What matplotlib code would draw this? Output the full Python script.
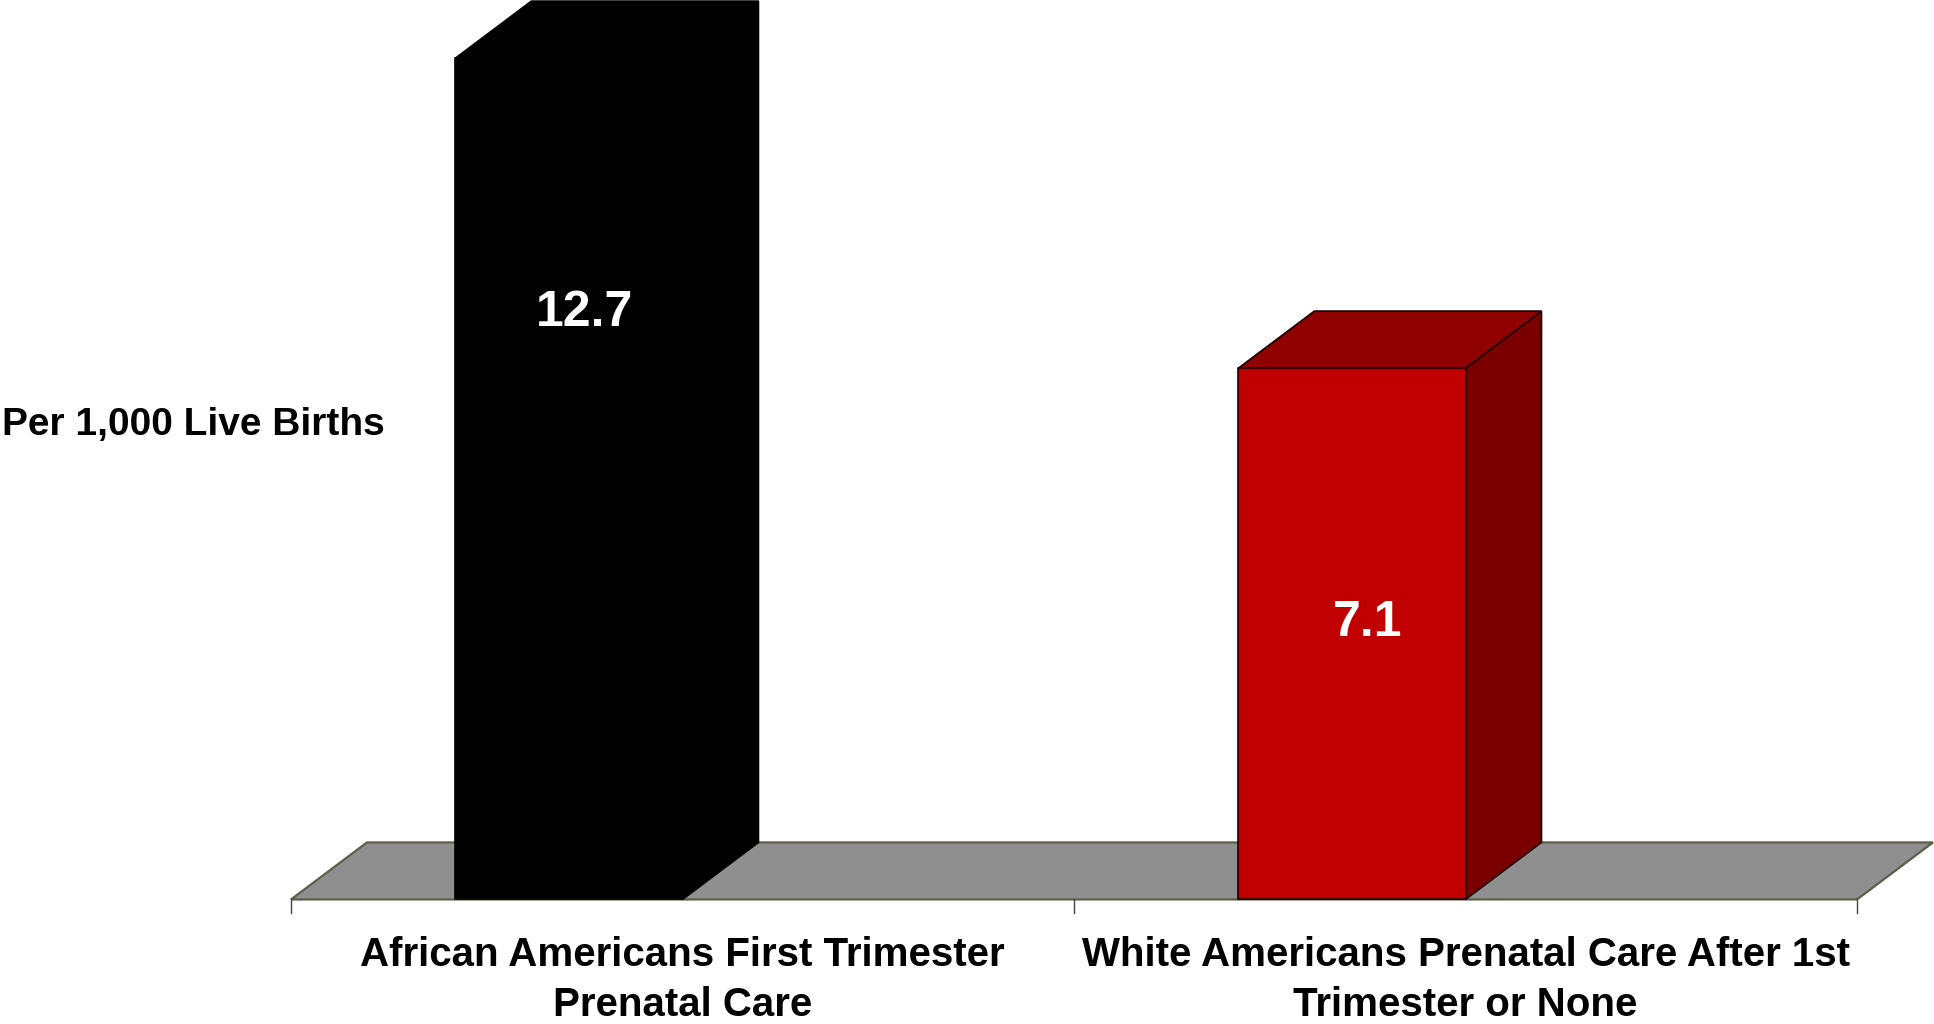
import matplotlib
matplotlib.use("Agg")
import matplotlib.pyplot as plt
from matplotlib.patches import Polygon

categories = ["African Americans First Trimester\nPrenatal Care",
              "White Americans Prenatal Care After 1st\nTrimester or None"]
values = [12.7, 7.1]
value_labels = ["12.7", "7.1"]
front_colors = ["#000000", "#C00000"]
top_colors = ["#000000", "#900000"]
side_colors = ["#000000", "#7A0000"]
edge_colors = ["#000000", "#1a0000"]
y_title = "Per 1,000 Live Births"

FLOOR = -2.5          # value level of the floor's front edge
BAR_W = 0.29          # front face width in category units
DX, DY = 0.097, 1.03  # oblique depth offset (x in categories, y in values)
FONT = ["Liberation Sans", "DejaVu Sans"]

fig = plt.figure(figsize=(19.34, 10.24), dpi=100)
ax = fig.add_axes([0, 0, 1, 1])
ax.set_xlim(-0.3716, 2.0983)
ax.set_ylim(-4.75, 13.75)
ax.axis("off")

n = len(categories)

# floor slab
ax.add_patch(Polygon([(0, FLOOR), (n, FLOOR), (n + DX, FLOOR + DY), (DX, FLOOR + DY)],
                     closed=True, fc="#8F8F8F", ec="#5E5E4A", lw=1.6, zorder=1))
# category ticks under the floor
for k in range(n + 1):
    ax.plot([k, k], [FLOOR, FLOOR - 0.25], color="#444444", lw=1.0, zorder=1)

for i, v in enumerate(values):
    c = i + 0.5
    x0, x1 = c - BAR_W, c
    side = [(x1, FLOOR), (x1 + DX, FLOOR + DY), (x1 + DX, v + DY), (x1, v)]
    top = [(x0, v), (x0 + DX, v + DY), (x1 + DX, v + DY), (x1, v)]
    front = [(x0, FLOOR), (x1, FLOOR), (x1, v), (x0, v)]
    ec = edge_colors[i]
    ax.add_patch(Polygon(side, closed=True, fc=side_colors[i], ec=ec, lw=1.2, zorder=2))
    ax.add_patch(Polygon(top, closed=True, fc=top_colors[i], ec=ec, lw=1.2, zorder=2))
    ax.add_patch(Polygon(front, closed=True, fc=front_colors[i], ec=ec, lw=1.2, zorder=3))
    ax.text(c - BAR_W / 2 + 0.02, v - 4.6, value_labels[i], color="white",
            fontsize=36, fontweight="bold", family=FONT,
            ha="center", va="center", zorder=4)
    ax.annotate(categories[i], (c, FLOOR), xytext=(0, -58), textcoords="offset points",
                ha="center", va="center", fontsize=29, fontweight="bold",
                family=FONT, linespacing=1.42)

fig.text(2 / 1934, 1 - 425 / 1024, y_title, ha="left", va="center",
         fontsize=28, fontweight="bold", family=FONT)

fig.savefig("out.png", dpi=100)
